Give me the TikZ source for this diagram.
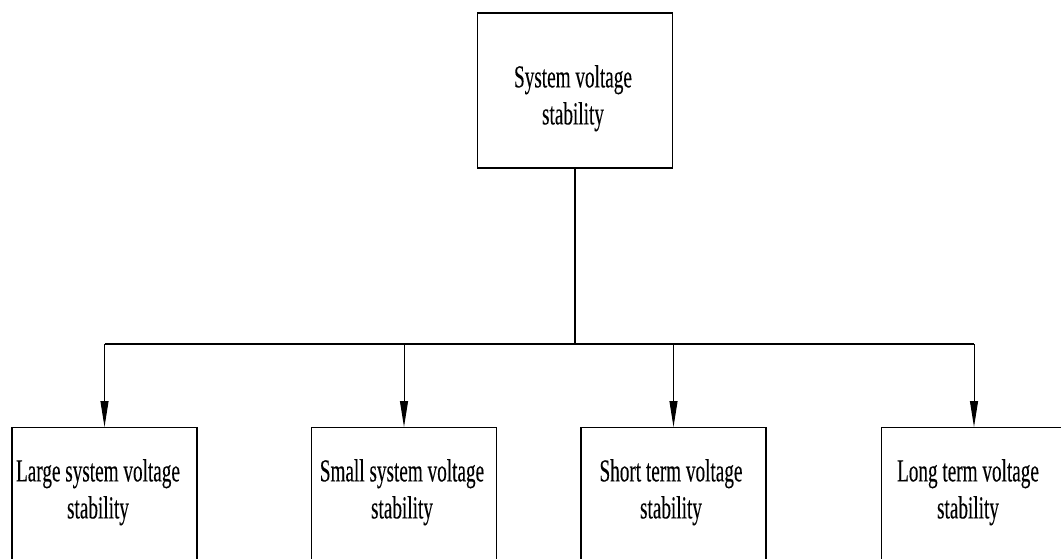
\documentclass[tikz,border=0pt]{standalone}
\usepackage{fontspec}
\setmainfont{Liberation Serif}[FakeStretch=0.6, FakeBold=0.2]
\usetikzlibrary{arrows.meta}
\begin{document}
\begin{tikzpicture}[x=1pt,y=-1pt,
  box/.style={draw, line width=1.3pt, inner sep=0pt},
  topbox/.style={box, minimum width=195pt, minimum height=155pt},
  leafbox/.style={box, anchor=north, minimum width=185pt, minimum height=160pt},
  lbl/.style={font=\fontsize{32}{37}\selectfont, align=center, inner sep=0pt, anchor=north},
  feed/.style={line width=1.3pt},
  drop/.style={line width=1pt, -{Triangle[length=26pt,width=8pt]}}]
\useasboundingbox (0,0) rectangle (1061,559);
\clip (0,0) rectangle (1061,559);

% root of the classification
\node[topbox] (top) at (575,90.5) {};
\node[lbl] (toptxt) at (573,65) {System voltage\\stability};

% the four classes
\node[leafbox] (b1) at (104.5,427) {};
\node[leafbox] (b2) at (404,427) {};
\node[leafbox] (b3) at (673.5,427) {};
\node[leafbox] (b4) at (974,427) {};
\node[lbl] (t1) at (98,459) {Large system voltage\\stability};
\node[lbl] (t2) at (402,459) {Small system voltage\\stability};
\node[lbl] (t3) at (671,459) {Short term voltage\\stability};
\node[lbl] (t4) at (968,459) {Long term voltage\\stability};

% distribution bus
\coordinate (bus) at (575,344);
\draw[feed] (top.south) -- (bus);
\draw[feed] (b1.north |- bus) -- (b4.north |- bus);
\foreach \b in {b1,b2,b3,b4}
  \draw[drop] (\b.north |- bus) -- (\b.north);
\end{tikzpicture}
\end{document}
